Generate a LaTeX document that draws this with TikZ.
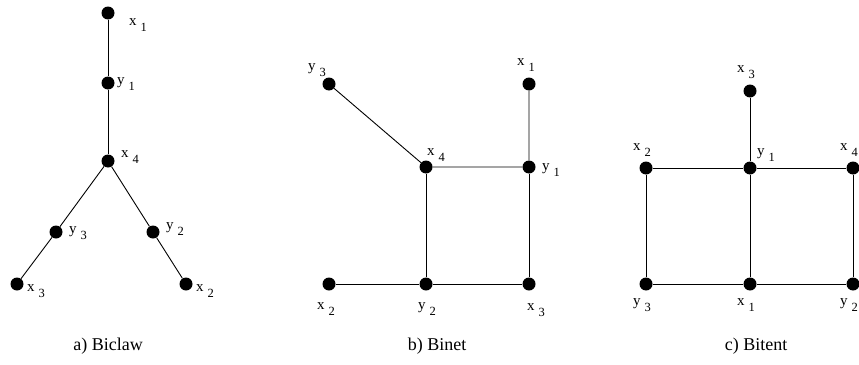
\documentclass[tikz,border=0pt]{standalone}
\usepackage{fontspec}
\setmainfont{Liberation Serif}
\newcommand{\lab}[2]{{\fontsize{15}{15}\selectfont #1}\hspace{4pt}\raisebox{-6pt}{\fontsize{12.5}{12.5}\selectfont #2}}
\tikzset{
  dot/.style={circle,fill=black,inner sep=0pt,minimum size=13pt},
  lbl/.style={anchor=base west,inner sep=0pt},
  captext/.style={anchor=base,inner sep=0pt,font=\fontsize{18}{18}\selectfont},
  link/.style={draw=black,line width=0.9pt}
}
\begin{document}
\begin{tikzpicture}[x=1pt,y=-1pt]
\useasboundingbox (0,0) rectangle (859,364);
\clip (0,0) rectangle (859,364);
% ---- a) Biclaw
\node[dot] (ax1) at (108,13) {};
\node[dot] (ay1) at (108,83) {};
\node[dot] (ax4) at (108,161) {};
\node[dot] (ay3) at (56,232) {};
\node[dot] (ay2) at (153,232) {};
\node[dot] (ax3) at (17,284) {};
\node[dot] (ax2) at (186,284) {};
\draw[link] (ax1) -- (ay1) -- (ax4);
\draw[link] (ax4) -- (ay3) -- (ax3);
\draw[link] (ax4) -- (ay2) -- (ax2);
\node[lbl] (lax1) at (129,25) {\lab{x}{1}};
\node[lbl] (lay1) at (117,84) {\lab{y}{1}};
\node[lbl] (lax4) at (121,157) {\lab{x}{4}};
\node[lbl] (lay3) at (69,233) {\lab{y}{3}};
\node[lbl] (lay2) at (166,229) {\lab{y}{2}};
\node[lbl] (lax3) at (27,291) {\lab{x}{3}};
\node[lbl] (lax2) at (196,291) {\lab{x}{2}};
\node[captext] (capa) at (108,350) {a) Biclaw};
% ---- b) Binet
\node[dot] (by3) at (329,84) {};
\node[dot] (bx1) at (529,84) {};
\node[dot] (bx4) at (426,167) {};
\node[dot] (by1) at (529,167) {};
\node[dot] (bx2) at (329,284) {};
\node[dot] (by2) at (426,284) {};
\node[dot] (bx3) at (529,284) {};
\draw[link] (by3) -- (bx4) -- (by1) -- (bx1);
\draw[link] (by1) -- (bx3) -- (by2) -- (bx2);
\draw[link] (by2) -- (bx4);
\node[lbl] (lby3) at (308,70) {\lab{y}{3}};
\node[lbl] (lbx1) at (517,65) {\lab{x}{1}};
\node[lbl] (lbx4) at (427,155) {\lab{x}{4}};
\node[lbl] (lby1) at (542,170) {\lab{y}{1}};
\node[lbl] (lbx2) at (317,309) {\lab{x}{2}};
\node[lbl] (lby2) at (418,309) {\lab{y}{2}};
\node[lbl] (lbx3) at (527,310) {\lab{x}{3}};
\node[captext] (capb) at (437,350) {b) Binet};
% ---- c) Bitent
\node[dot] (cx3) at (750,91) {};
\node[dot] (cx2) at (646,168) {};
\node[dot] (cy1) at (750,168) {};
\node[dot] (cx4) at (853,168) {};
\node[dot] (cy3) at (646,284) {};
\node[dot] (cx1) at (750,284) {};
\node[dot] (cy2) at (853,284) {};
\draw[link] (cx3) -- (cy1) -- (cx1);
\draw[link] (cx2) -- (cy1) -- (cx4) -- (cy2) -- (cx1) -- (cy3) -- (cx2);
\node[lbl] (lcx3) at (737,72) {\lab{x}{3}};
\node[lbl] (lcx2) at (633,150) {\lab{x}{2}};
\node[lbl] (lcy1) at (757,155) {\lab{y}{1}};
\node[lbl] (lcx4) at (840,150) {\lab{x}{4}};
\node[lbl] (lcy3) at (633,305) {\lab{y}{3}};
\node[lbl] (lcx1) at (737,305) {\lab{x}{1}};
\node[lbl] (lcy2) at (840,305) {\lab{y}{2}};
\node[captext] (capc) at (756,350) {c) Bitent};
\end{tikzpicture}
\end{document}
